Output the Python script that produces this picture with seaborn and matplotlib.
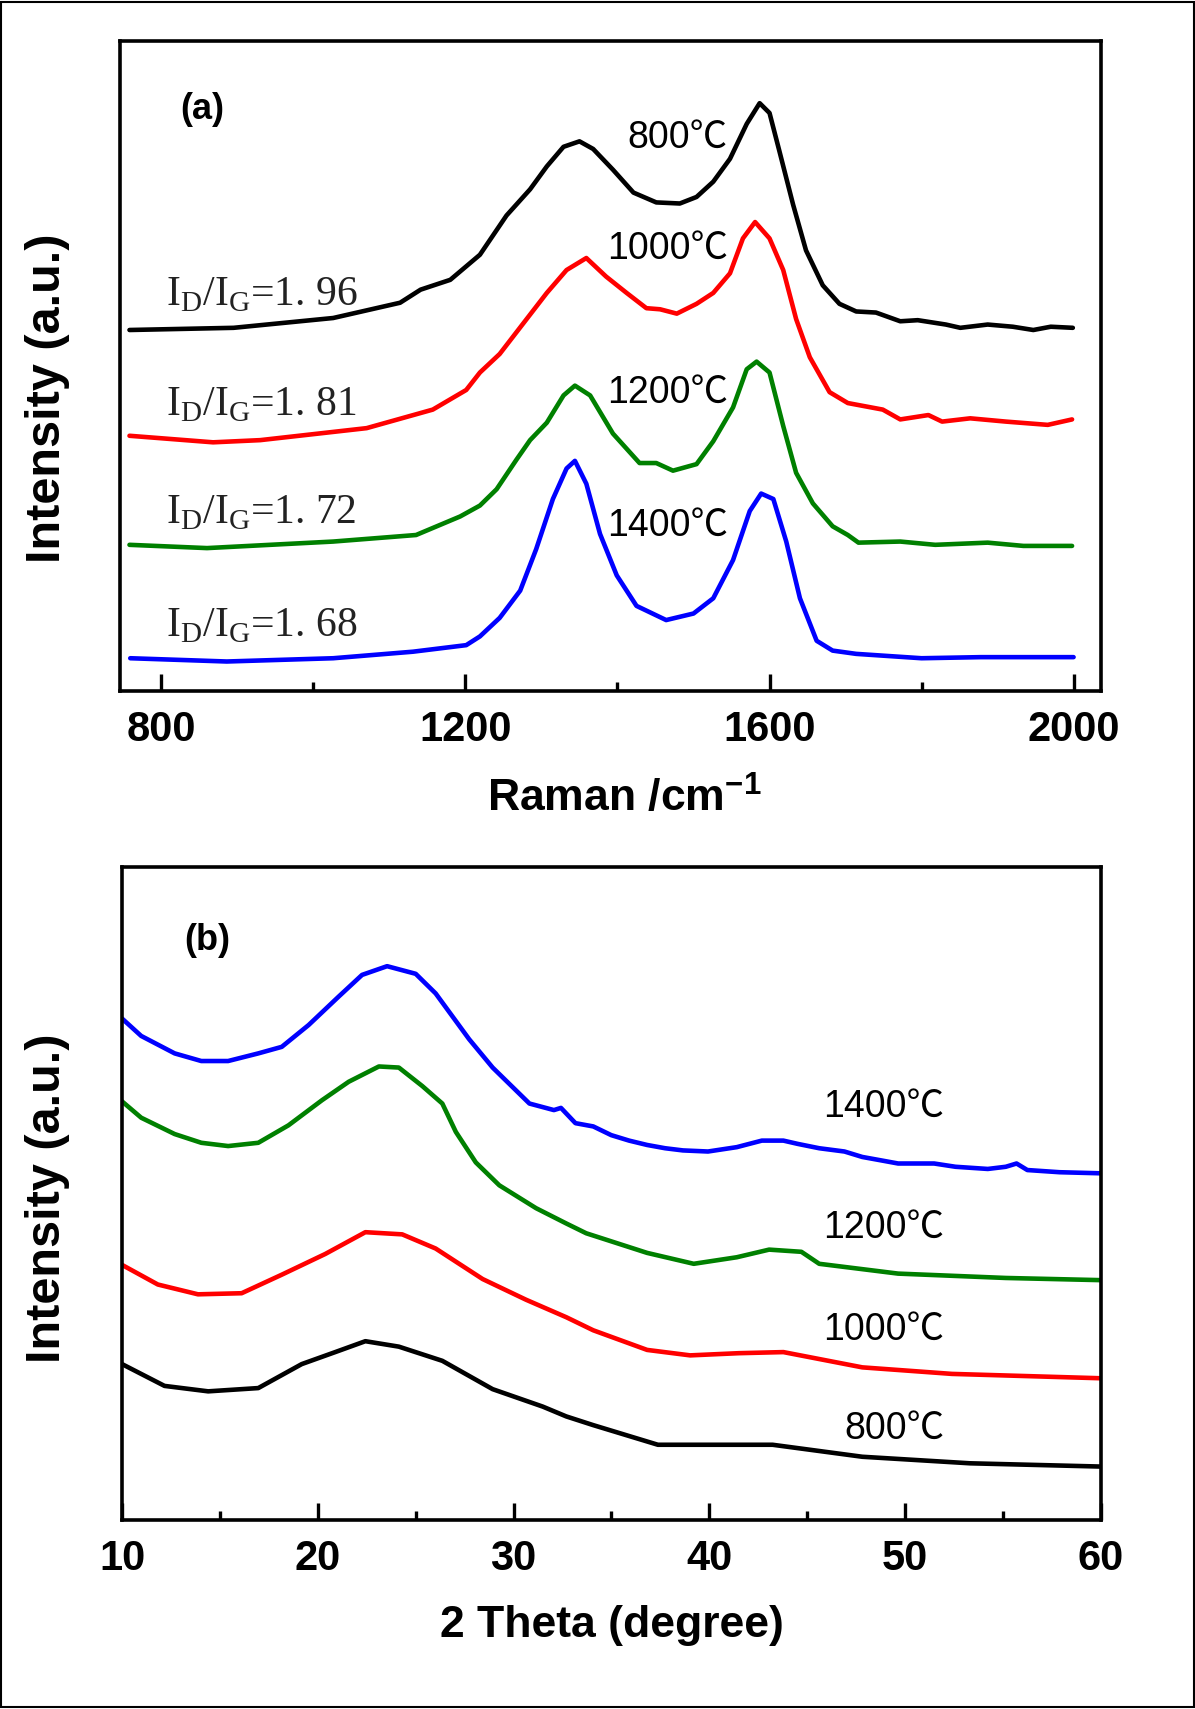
import matplotlib
matplotlib.use("Agg")
import matplotlib.pyplot as plt
from matplotlib.patches import Rectangle
from matplotlib.ticker import MultipleLocator
import seaborn as sns

# ---- (a) Raman spectra, intensity stacked with offsets (a.u.) ----
raman_800_x = [758, 895, 1026, 1114, 1141, 1180, 1219, 1254, 1285, 1307, 1329, 1350, 1368, 1394,
               1421, 1451, 1482, 1504, 1526, 1548, 1570, 1587, 1600, 1613, 1631, 1648, 1670, 1692,
               1714, 1740, 1772, 1795, 1832, 1851, 1887, 1920, 1947, 1970, 1999]
raman_800_y = [331, 333, 342, 356, 368, 377, 400, 436, 460, 481, 499, 504, 497, 478,
               457, 448, 447, 453, 467, 488, 520, 539, 530, 495, 446, 404, 372, 355,
               348, 347, 339, 340, 336, 333, 336, 334, 331, 334, 333]

raman_1000_x = [758, 868, 930, 1070, 1157, 1201, 1219, 1245, 1276, 1307, 1333, 1359, 1385, 1412,
                1438, 1456, 1478, 1504, 1526, 1548, 1565, 1581, 1600, 1618, 1635, 1653, 1679,
                1703, 1749, 1772, 1809, 1827, 1864, 1911, 1966, 1998]
raman_1000_y = [234, 228, 230, 241, 258, 276, 292, 309, 337, 365, 386, 397, 380, 365,
                351, 350, 346, 355, 365, 383, 415, 430, 415, 386, 341, 306, 274,
                264, 258, 249, 253, 247, 250, 247, 244, 249]

raman_1200_x = [758, 860, 1026, 1135, 1193, 1219, 1241, 1267, 1285, 1307, 1329, 1344, 1364, 1394,
                1429, 1451, 1473, 1504, 1526, 1552, 1570, 1583, 1600, 1618, 1635, 1657, 1683,
                1703, 1717, 1772, 1818, 1887, 1934, 1998]
raman_1200_y = [134, 131, 137, 143, 160, 170, 185, 212, 230, 246, 271, 280, 271, 236,
                209, 209, 202, 208, 229, 260, 295, 302, 292, 243, 200, 172, 151,
                143, 136, 137, 134, 136, 133, 133]

raman_1400_x = [759, 886, 1026, 1131, 1201, 1219, 1245, 1272, 1293, 1315, 1333, 1344, 1359, 1377,
                1399, 1425, 1464, 1500, 1526, 1552, 1574, 1589, 1605, 1622, 1640, 1662, 1683,
                1714, 1800, 1878, 2000]
raman_1400_y = [30, 27, 30, 36, 42, 50, 67, 92, 130, 176, 204, 211, 190, 144,
                106, 78, 65, 71, 85, 120, 165, 181, 176, 137, 85, 46, 37,
                34, 30, 31, 31]

raman_ratio = ["1. 96", "1. 81", "1. 72", "1. 68"]
raman_ratio_y = [354, 253, 154, 50]
raman_temp = ["800", "1000", "1200", "1400"]
raman_temp_y = [507, 405, 273, 151]

# ---- (b) XRD patterns ----
xrd_1400_x = [10, 10.98, 12.69, 14.05, 15.42, 16.96, 18.16, 19.53, 21.06, 22.26, 23.54, 25.00,
              26.02, 27.73, 28.93, 30.81, 32.06, 32.42, 33.16, 34.07, 34.99, 35.90, 36.82, 37.74,
              38.65, 39.93, 41.40, 42.68, 43.78, 44.51, 45.61, 46.90, 47.81, 48.73, 49.64, 51.48,
              52.57, 54.22, 55.14, 55.69, 56.24, 57.89, 60]
xrd_1400_y = [460, 444, 428, 421, 421, 428, 434, 454, 480, 500, 508, 501,
              483, 441, 415, 382, 376, 378, 364, 361, 353, 348, 344, 341,
              339, 338, 342, 348, 348, 345, 341, 338, 333, 330, 327, 327,
              324, 322, 324, 327, 321, 319, 318]

xrd_1200_x = [10, 10.98, 12.69, 14.05, 15.42, 16.96, 18.50, 20.21, 21.58, 23.12, 24.14, 25.34,
              26.36, 27.05, 28.07, 29.27, 31.15, 32.69, 33.71, 36.82, 39.20, 41.40, 43.05, 44.70,
              45.61, 49.64, 55.14, 60]
xrd_1200_y = [384, 369, 354, 346, 343, 346, 362, 385, 402, 416, 415, 398,
              382, 356, 328, 307, 286, 272, 263, 245, 235, 241, 248, 246,
              235, 226, 222, 220]

xrd_1000_x = [10, 11.83, 13.88, 16.11, 18.16, 20.38, 22.43, 24.31, 26.02, 28.42, 30.64, 32.69,
              34.07, 36.82, 39.02, 41.50, 43.78, 47.81, 52.39, 60]
xrd_1000_y = [234, 216, 207, 208, 225, 244, 264, 262, 249, 221, 202, 186,
              174, 156, 151, 153, 154, 140, 134, 130]

xrd_800_x = [10, 12.17, 14.40, 16.96, 19.18, 20.89, 22.43, 24.14, 26.36, 28.93, 31.49, 32.69,
             34.07, 37.37, 40.30, 43.23, 47.81, 53.31, 60]
xrd_800_y = [143, 123, 118, 121, 143, 154, 164, 159, 146, 120, 104, 95,
             87, 69, 69, 69, 58, 52, 49]

xrd_temp = ["1400", "1200", "1000", "800"]
xrd_temp_y = [379, 268, 174, 84]

colors = ["#0000ff", "#008000", "#ff0000", "#000000"]

raman_ticks = [800, 1200, 1600, 2000]
xrd_ticks = [10, 20, 30, 40, 50, 60]

sns.set_style("ticks")
plt.rcParams['font.family'] = ['Liberation Sans', 'Noto Sans CJK SC', 'DejaVu Sans']
plt.rcParams['mathtext.fontset'] = 'custom'
plt.rcParams['mathtext.rm'] = 'Liberation Serif'
plt.rcParams['mathtext.bf'] = 'Liberation Sans:bold'
plt.rcParams['text.color'] = 'black'
plt.rcParams['axes.labelcolor'] = 'black'
plt.rcParams['xtick.color'] = 'black'

fig = plt.figure(figsize=(11.95, 17.09), dpi=100)
ax = fig.add_axes([0.1004, 0.5957, 0.8209, 0.3803])
bx = fig.add_axes([0.1021, 0.1106, 0.8192, 0.3821])

raman = [(raman_1400_x, raman_1400_y), (raman_1200_x, raman_1200_y),
         (raman_1000_x, raman_1000_y), (raman_800_x, raman_800_y)]
xrd = [(xrd_1400_x, xrd_1400_y), (xrd_1200_x, xrd_1200_y),
       (xrd_1000_x, xrd_1000_y), (xrd_800_x, xrd_800_y)]

for (xs, ys), c in zip(raman, colors):
    sns.lineplot(x=xs, y=ys, ax=ax, color=c, lw=3.3, sort=False, estimator=None)
for (xs, ys), c in zip(xrd, colors):
    sns.lineplot(x=xs, y=ys, ax=bx, color=c, lw=3.3, sort=False, estimator=None)

ax.set_xlim(745.5, 2036)
ax.set_ylim(0, 596)
bx.set_xlim(10, 60)
bx.set_ylim(0, 599)

ax.set_xticks(raman_ticks)
ax.set_xticklabels([str(t) for t in raman_ticks], fontsize=30, fontweight='bold')
ax.xaxis.set_minor_locator(MultipleLocator(200))
bx.set_xticks(xrd_ticks)
bx.set_xticklabels([str(t) for t in xrd_ticks], fontsize=30, fontweight='bold')
bx.xaxis.set_minor_locator(MultipleLocator(5))

for a in (ax, bx):
    for s in a.spines.values():
        s.set_linewidth(2.6)
        s.set_color('black')
        s.set_visible(True)
    a.tick_params(axis='x', which='major', direction='in', length=12, width=2.4, pad=14, colors='black')
    a.tick_params(axis='x', which='minor', direction='in', length=6.5, width=2.4, colors='black')
    a.tick_params(axis='y', which='both', left=False, labelleft=False)
    a.set_ylabel('Intensity (a.u.)', fontsize=35, fontweight='bold')

ax.yaxis.set_label_coords(-0.051, 0.45)
bx.yaxis.set_label_coords(-0.053, 0.493)

ax.set_xlabel(r'Raman /cm$^{\mathbf{-1}}$', fontsize=32, fontweight='bold')
ax.xaxis.label.set_va('center')
ax.xaxis.set_label_coords(0.514, -0.166)
bx.set_xlabel('2 Theta (degree)', fontsize=32, fontweight='bold')
bx.xaxis.label.set_va('center')
bx.xaxis.set_label_coords(0.5, -0.162)

ax.text(0.084, 0.895, '(a)', transform=ax.transAxes, fontsize=26, fontweight='bold',
        ha='center', va='center')
bx.text(0.087, 0.888, '(b)', transform=bx.transAxes, fontsize=26, fontweight='bold',
        ha='center', va='center')

# temperature labels
for t, y in zip(raman_temp, raman_temp_y):
    ax.text(1545, y, t + "\u2103", fontsize=27, ha='right', va='center')
for t, y in zip(xrd_temp, xrd_temp_y):
    bx.text(52.0, y, t + "\u2103", fontsize=27, ha='right', va='center')

# I_D/I_G ratios
for r, y in zip(raman_ratio, raman_ratio_y):
    ax.text(806, y, r"I$_{\rm D}$/I$_{\rm G}$=" + r, fontsize=30, family='Liberation Serif',
            color='#222222', ha='left', va='baseline')

fig.add_artist(Rectangle((0.001, 0.001), 0.998, 0.998, transform=fig.transFigure,
                         fill=False, lw=1.5, ec='black'))

fig.savefig('out.png', dpi=100)
